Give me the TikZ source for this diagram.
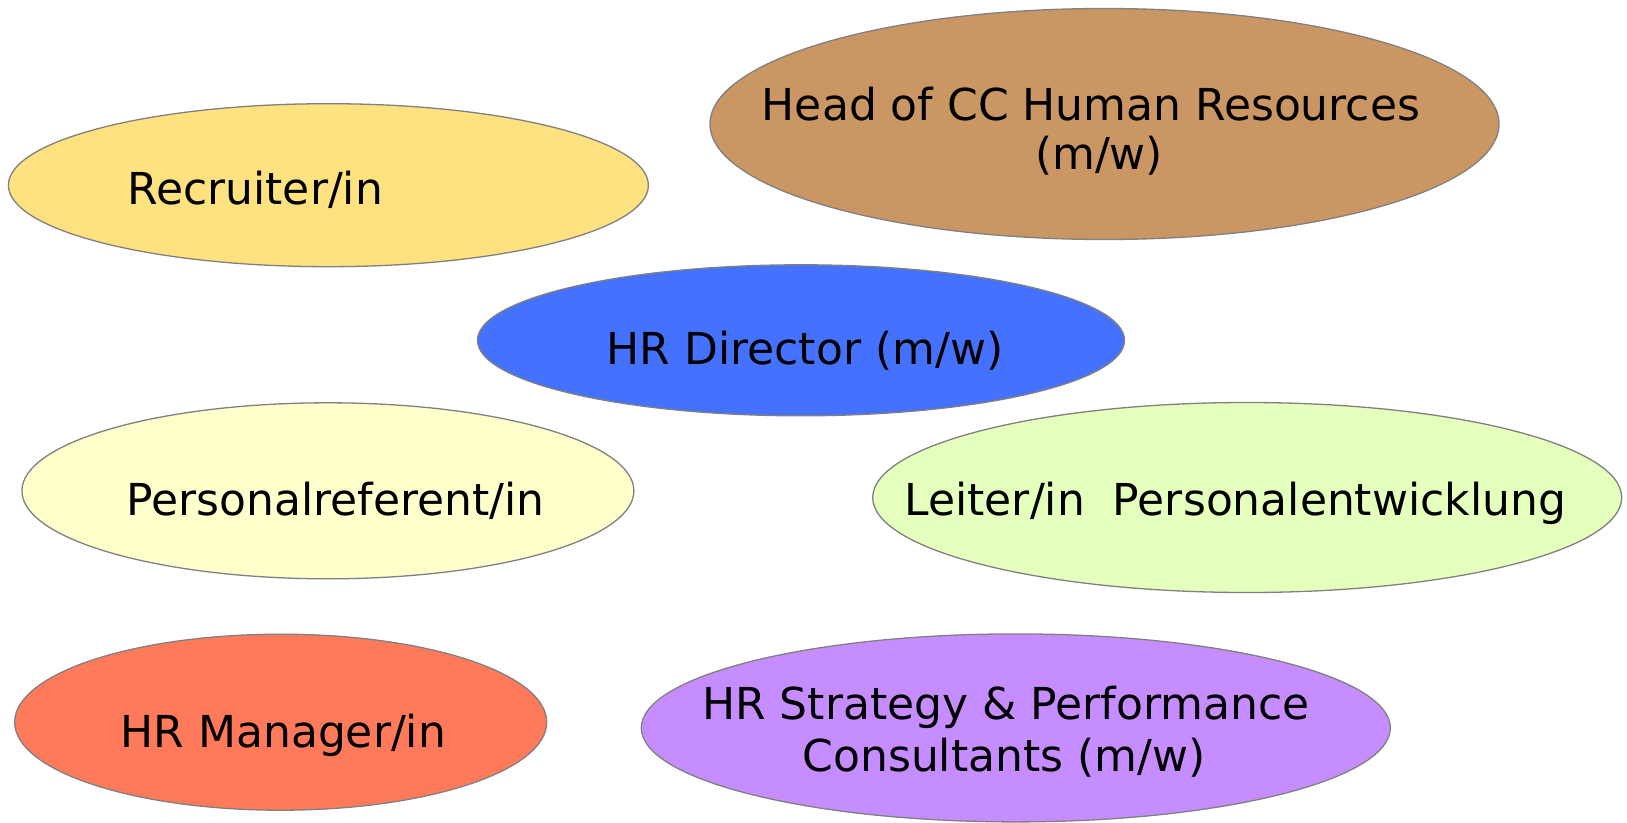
\documentclass[tikz,border=0pt]{standalone}
\usepackage{fontspec}
\setmainfont{DejaVu Sans}
\usetikzlibrary{shapes.geometric}
\definecolor{cyellow}{HTML}{FFE280}
\definecolor{ctan}{HTML}{CA9764}
\definecolor{cblue}{HTML}{4472FF}
\definecolor{cpale}{HTML}{FFFFCC}
\definecolor{cgreen}{HTML}{E5FFBD}
\definecolor{cred}{HTML}{FF7A5A}
\definecolor{cviolet}{HTML}{C58DFF}
\definecolor{cedge}{HTML}{808080}
\tikzset{
  oval/.style={ellipse, draw=cedge, line width=1.3pt, inner sep=0pt},
  lbl/.style={anchor=base, inner sep=0pt, font=\fontsize{44}{49}\selectfont}
}
\begin{document}
\begin{tikzpicture}[x=1pt,y=-1pt]
\useasboundingbox (0,0) rectangle (1627,822);
\node[oval, fill=cyellow, minimum width=640pt, minimum height=163pt] (recr) at (328.4,185.2) {};
\node[oval, fill=ctan, minimum width=789pt, minimum height=231pt] (head) at (1104.5,124) {};
\node[oval, fill=cblue, minimum width=647pt, minimum height=151pt] (dir) at (801,340.3) {};
\node[oval, fill=cpale, minimum width=612pt, minimum height=176pt] (pref) at (327.9,490.8) {};
\node[oval, fill=cgreen, minimum width=749pt, minimum height=190pt] (leit) at (1247.2,497.5) {};
\node[oval, fill=cred, minimum width=532pt, minimum height=176pt] (mgr) at (280.7,722.2) {};
\node[oval, fill=cviolet, minimum width=749pt, minimum height=188pt] (strat) at (1015.8,727.9) {};

\node[lbl] (trecr) at (255.3,204.4) {Recruiter/in};
\node[lbl] (thead1) at (1091,120.4) {Head of CC Human Resources};
\node[lbl] (thead2) at (1099,169) {(m/w)};
\node[lbl] (tdir) at (805,364) {HR Director (m/w)};
\node[lbl] (tpref) at (335.7,515.7) {Personalreferent/in};
\node[lbl] (tleit) at (1235.3,515.7) {Leiter/in\ \ Personalentwicklung};
\node[lbl] (tmgr) at (283.3,747) {HR Manager/in};
\node[lbl] (tstrat1) at (1006,719) {HR Strategy \& Performance};
\node[lbl] (tstrat2) at (1004,771) {Consultants (m/w)};
\end{tikzpicture}
\end{document}
